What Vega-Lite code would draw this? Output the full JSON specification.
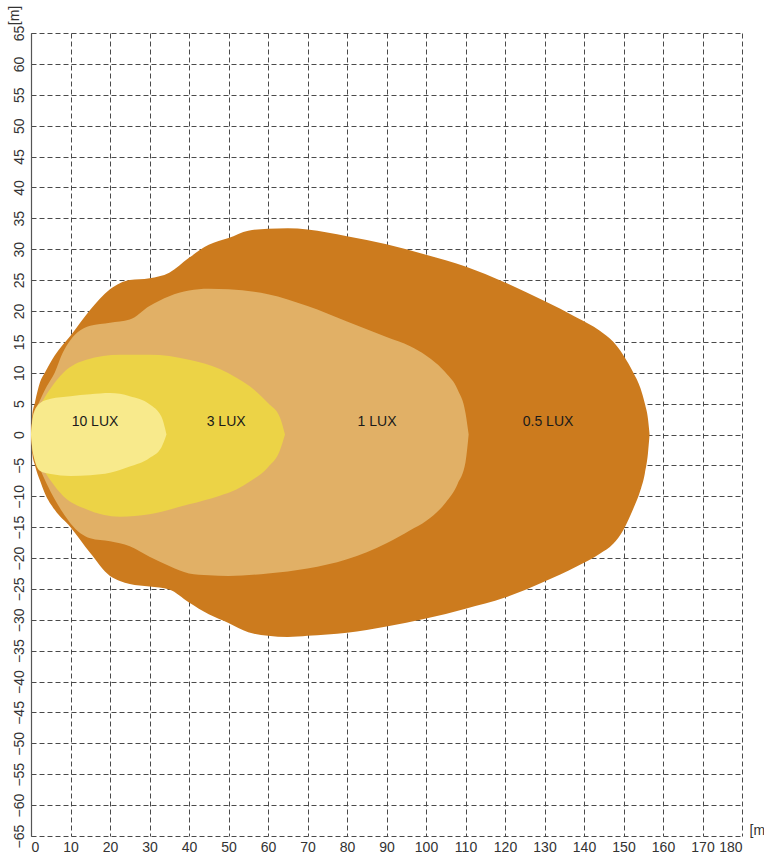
{
  "$schema": "https://vega.github.io/schema/vega-lite/v6.json",
  "width": 711,
  "height": 803,
  "autosize": {"type": "none"},
  "padding": {"left": 31, "top": 33, "right": 22, "bottom": 18},
  "background": "white",
  "datasets": {
    "contours": [
      {"lvl": "0.5", "x": 0, "top": 0, "bot": 0},
      {"lvl": "0.5", "x": 0.3, "top": 3, "bot": -3},
      {"lvl": "0.5", "x": 1, "top": 5.2, "bot": -5},
      {"lvl": "0.5", "x": 2.3, "top": 8.5, "bot": -7.5},
      {"lvl": "0.5", "x": 3.5, "top": 10, "bot": -9.5},
      {"lvl": "0.5", "x": 6, "top": 12.8, "bot": -12.2},
      {"lvl": "0.5", "x": 10, "top": 16, "bot": -15},
      {"lvl": "0.5", "x": 15, "top": 20.2, "bot": -19.2},
      {"lvl": "0.5", "x": 20, "top": 23.5, "bot": -22.9},
      {"lvl": "0.5", "x": 22.5, "top": 24.5, "bot": -23.7},
      {"lvl": "0.5", "x": 25, "top": 25, "bot": -24.2},
      {"lvl": "0.5", "x": 30, "top": 25.3, "bot": -24.6},
      {"lvl": "0.5", "x": 35, "top": 26.2, "bot": -25.1},
      {"lvl": "0.5", "x": 40, "top": 28.6, "bot": -27.2},
      {"lvl": "0.5", "x": 45, "top": 30.7, "bot": -29.1},
      {"lvl": "0.5", "x": 50, "top": 31.8, "bot": -30.5},
      {"lvl": "0.5", "x": 55, "top": 33, "bot": -32},
      {"lvl": "0.5", "x": 60, "top": 33.3, "bot": -32.6},
      {"lvl": "0.5", "x": 65, "top": 33.4, "bot": -32.8},
      {"lvl": "0.5", "x": 70, "top": 33.2, "bot": -32.6},
      {"lvl": "0.5", "x": 80, "top": 32.1, "bot": -32.1},
      {"lvl": "0.5", "x": 90, "top": 30.8, "bot": -31.1},
      {"lvl": "0.5", "x": 100, "top": 29.1, "bot": -29.8},
      {"lvl": "0.5", "x": 110, "top": 27.2, "bot": -28.2},
      {"lvl": "0.5", "x": 120, "top": 24.6, "bot": -26.4},
      {"lvl": "0.5", "x": 130, "top": 21.6, "bot": -23.8},
      {"lvl": "0.5", "x": 138, "top": 19, "bot": -21.4},
      {"lvl": "0.5", "x": 144, "top": 16.8, "bot": -19.3},
      {"lvl": "0.5", "x": 147.4, "top": 15, "bot": -17.7},
      {"lvl": "0.5", "x": 150, "top": 12.8, "bot": -15.4},
      {"lvl": "0.5", "x": 152.5, "top": 10, "bot": -12},
      {"lvl": "0.5", "x": 154.3, "top": 7.5, "bot": -9},
      {"lvl": "0.5", "x": 155.4, "top": 5, "bot": -6.3},
      {"lvl": "0.5", "x": 156.2, "top": 2.5, "bot": -3},
      {"lvl": "0.5", "x": 156.6, "top": 0, "bot": 0},

      {"lvl": "1", "x": 0, "top": 0, "bot": 0},
      {"lvl": "1", "x": 0.5, "top": 3, "bot": -3},
      {"lvl": "1", "x": 1.9, "top": 5, "bot": -5},
      {"lvl": "1", "x": 4, "top": 7.8, "bot": -8},
      {"lvl": "1", "x": 6, "top": 10, "bot": -10.5},
      {"lvl": "1", "x": 8, "top": 13.2, "bot": -12.6},
      {"lvl": "1", "x": 10, "top": 15.3, "bot": -14.4},
      {"lvl": "1", "x": 15, "top": 17.6, "bot": -16.8},
      {"lvl": "1", "x": 20, "top": 18.1, "bot": -17.3},
      {"lvl": "1", "x": 25, "top": 18.6, "bot": -18.1},
      {"lvl": "1", "x": 30, "top": 20.8, "bot": -19.8},
      {"lvl": "1", "x": 35, "top": 22.4, "bot": -21.3},
      {"lvl": "1", "x": 40, "top": 23.3, "bot": -22.5},
      {"lvl": "1", "x": 45, "top": 23.6, "bot": -22.8},
      {"lvl": "1", "x": 50, "top": 23.5, "bot": -22.9},
      {"lvl": "1", "x": 60, "top": 22.7, "bot": -22.5},
      {"lvl": "1", "x": 70, "top": 20.8, "bot": -21.7},
      {"lvl": "1", "x": 80, "top": 18.3, "bot": -20.2},
      {"lvl": "1", "x": 90, "top": 15.8, "bot": -17.6},
      {"lvl": "1", "x": 96, "top": 14.3, "bot": -15.5},
      {"lvl": "1", "x": 100, "top": 12.8, "bot": -14},
      {"lvl": "1", "x": 105, "top": 10, "bot": -11},
      {"lvl": "1", "x": 108, "top": 7.3, "bot": -8},
      {"lvl": "1", "x": 110, "top": 3.5, "bot": -4.5},
      {"lvl": "1", "x": 110.8, "top": 0, "bot": 0},

      {"lvl": "3", "x": 0, "top": 0, "bot": 0},
      {"lvl": "3", "x": 1, "top": 3, "bot": -3},
      {"lvl": "3", "x": 3, "top": 5.5, "bot": -5.5},
      {"lvl": "3", "x": 5, "top": 7.5, "bot": -7.5},
      {"lvl": "3", "x": 8.2, "top": 10, "bot": -10},
      {"lvl": "3", "x": 14, "top": 12.1, "bot": -12.1},
      {"lvl": "3", "x": 22.5, "top": 12.9, "bot": -13.3},
      {"lvl": "3", "x": 30, "top": 12.9, "bot": -12.9},
      {"lvl": "3", "x": 40, "top": 12.1, "bot": -11.3},
      {"lvl": "3", "x": 47.8, "top": 10.6, "bot": -9.9},
      {"lvl": "3", "x": 52, "top": 9.2, "bot": -8.9},
      {"lvl": "3", "x": 55.4, "top": 7.8, "bot": -7.6},
      {"lvl": "3", "x": 60, "top": 5.1, "bot": -5.3},
      {"lvl": "3", "x": 63, "top": 2.8, "bot": -2.6},
      {"lvl": "3", "x": 64.3, "top": 0, "bot": 0},

      {"lvl": "10", "x": 0, "top": 0, "bot": 0},
      {"lvl": "10", "x": 0.5, "top": 3, "bot": -3},
      {"lvl": "10", "x": 2.3, "top": 5.1, "bot": -5.9},
      {"lvl": "10", "x": 5, "top": 5.8, "bot": -6.4},
      {"lvl": "10", "x": 10, "top": 6.2, "bot": -6.7},
      {"lvl": "10", "x": 15, "top": 6.5, "bot": -6.6},
      {"lvl": "10", "x": 20, "top": 6.7, "bot": -6.2},
      {"lvl": "10", "x": 25, "top": 6.2, "bot": -5.2},
      {"lvl": "10", "x": 30, "top": 4.9, "bot": -3.8},
      {"lvl": "10", "x": 33, "top": 2.9, "bot": -2.1},
      {"lvl": "10", "x": 34.3, "top": 0, "bot": 0}
    ],
    "labels": [
      {"x": 16.2, "top": 2.1, "text": "10 LUX"},
      {"x": 49.4, "top": 2.1, "text": "3 LUX"},
      {"x": 87.6, "top": 2.1, "text": "1 LUX"},
      {"x": 130.9, "top": 2.1, "text": "0.5 LUX"}
    ]
  },
  "encoding": {
    "x": {
      "field": "x", "type": "quantitative",
      "scale": {"domain": [0, 180], "nice": false, "zero": false},
      "axis": {
        "values": [0, 10, 20, 30, 40, 50, 60, 70, 80, 90, 100, 110, 120, 130, 140, 150, 160, 170, 180],
        "title": "[m]", "titleX": 718, "titleY": -6, "titleAlign": "left", "titleBaseline": "middle", "titleAngle": 0,
        "domain": false, "ticks": false, "grid": true, "labelPadding": 4, "labelBaseline": "top"
      }
    },
    "y": {
      "field": "top", "type": "quantitative",
      "scale": {"domain": [-65, 65], "nice": false, "zero": false},
      "axis": {
        "values": [-65, -60, -55, -50, -45, -40, -35, -30, -25, -20, -15, -10, -5, 0, 5, 10, 15, 20, 25, 30, 35, 40, 45, 50, 55, 60, 65],
        "title": "[m]", "titleX": -17, "titleY": -18, "titleAngle": 270, "titleAlign": "center", "titleBaseline": "middle",
        "labelAngle": 270, "labelAlign": "center", "labelBaseline": "alphabetic", "labelPadding": 8,
        "domain": true, "ticks": false, "grid": true
      }
    }
  },
  "layer": [
    {"data": {"name": "contours"}, "transform": [{"filter": "datum.lvl == '0.5'"}],
     "mark": {"type": "area", "interpolate": "monotone", "color": "#CC7B1E", "stroke": null},
     "encoding": {"y2": {"field": "bot"}}},
    {"data": {"name": "contours"}, "transform": [{"filter": "datum.lvl == '1'"}],
     "mark": {"type": "area", "interpolate": "monotone", "color": "#E1B066", "stroke": null},
     "encoding": {"y2": {"field": "bot"}}},
    {"data": {"name": "contours"}, "transform": [{"filter": "datum.lvl == '3'"}],
     "mark": {"type": "area", "interpolate": "monotone", "color": "#ECD346", "stroke": null},
     "encoding": {"y2": {"field": "bot"}}},
    {"data": {"name": "contours"}, "transform": [{"filter": "datum.lvl == '10'"}],
     "mark": {"type": "area", "interpolate": "monotone", "color": "#F8EA8C", "stroke": null},
     "encoding": {"y2": {"field": "bot"}}},
    {"data": {"name": "labels"},
     "mark": {"type": "text", "font": "Liberation Sans", "fontSize": 14, "color": "#1a1a1a", "align": "center", "baseline": "middle"},
     "encoding": {"text": {"field": "text"}}}
  ],
  "config": {
    "view": {"stroke": null},
    "axis": {
      "zindex": 1,
      "gridColor": "#4a4a4a", "gridDash": [5, 3], "gridWidth": 1, "gridOpacity": 1,
      "domainColor": "#555555", "domainWidth": 1.2,
      "labelFont": "Liberation Sans", "labelFontSize": 14, "labelColor": "#333333",
      "titleFont": "Liberation Sans", "titleFontSize": 14, "titleFontWeight": "normal", "titleColor": "#333333"
    }
  }
}
